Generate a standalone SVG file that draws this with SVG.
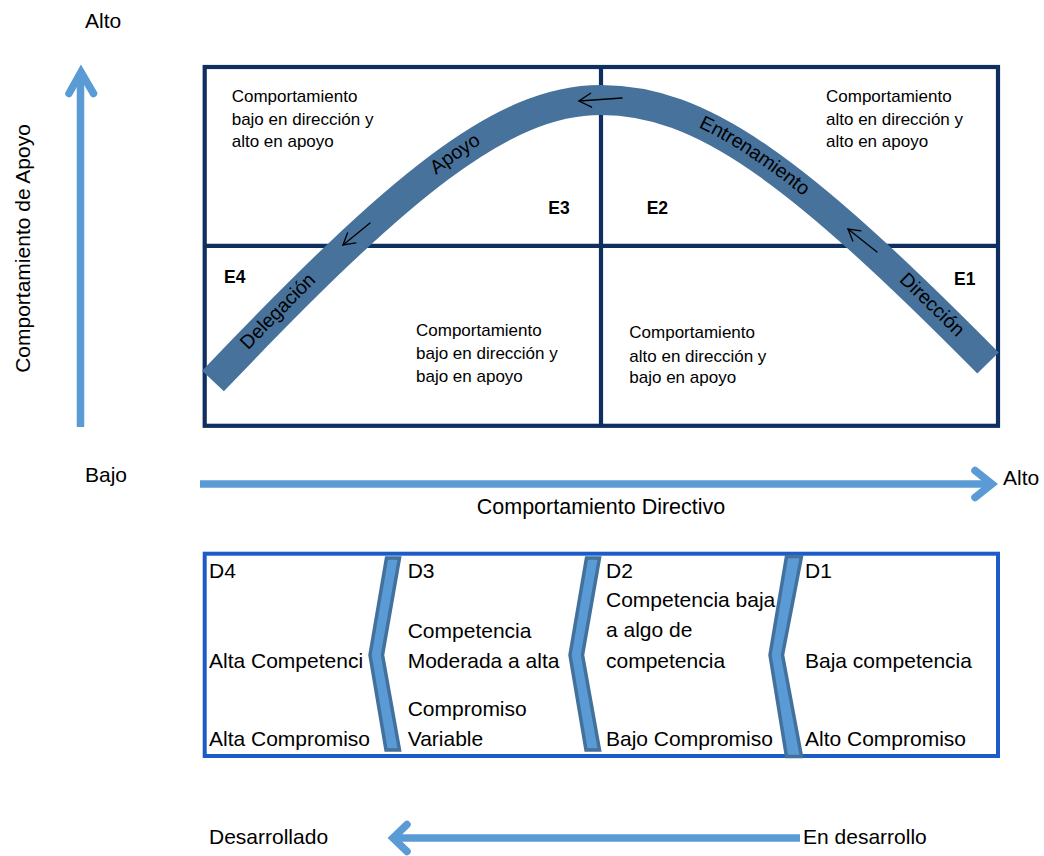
<svg xmlns="http://www.w3.org/2000/svg" width="1044" height="856" viewBox="0 0 1044 856">
  <defs>
    <style>
      .t { font-family: "Liberation Sans", Arial, sans-serif; fill: #000; }
      .quad { font-size: 17px; }
      .lbl { font-size: 17.5px; font-weight: bold; }
      .cell { font-size: 21px; }
      .axis { font-size: 21px; }
      .bandtxt { font-size: 19.5px; }
      .grid { fill: none; stroke: #0F2F61; stroke-width: 4.2; }
      .axisline { fill: none; stroke: #5B9BD5; stroke-width: 7.5; stroke-linecap: butt; }
      .axishead { fill: none; stroke: #5B9BD5; stroke-width: 7.5; stroke-linecap: round; stroke-linejoin: miter; }
      .thin { fill: none; stroke: #000; stroke-width: 1.3; stroke-linecap: round; }
      .chev { fill: #5B9BD5; stroke: #41719C; stroke-width: 3.5; stroke-linejoin: miter; }
    </style>
    <path id="arcPath" d="M213,381 C398,187 501,100 601,100 C701,100 795,168 988,363"/>
  </defs>

  <rect width="1044" height="856" fill="#fff"/>

  <!-- quadrant grid -->
  <g id="grid">
    <rect class="grid" x="204.7" y="67" width="793.3" height="358.8"/>
    <line class="grid" x1="601" y1="67" x2="601" y2="425.8"/>
    <line class="grid" x1="204.7" y1="245.8" x2="998" y2="245.8"/>
  </g>

  <!-- quadrant descriptions -->
  <g id="q-e3">
    <text class="t quad" x="231.7" y="101.7">Comportamiento</text>
    <text class="t quad" x="231.7" y="125">bajo en dirección y</text>
    <text class="t quad" x="231.7" y="147.3">alto en apoyo</text>
    <text class="t lbl" x="548.3" y="214">E3</text>
  </g>
  <g id="q-e2">
    <text class="t quad" x="826" y="101.7">Comportamiento</text>
    <text class="t quad" x="826" y="125">alto en dirección y</text>
    <text class="t quad" x="826" y="147.3">alto en apoyo</text>
    <text class="t lbl" x="646.7" y="214">E2</text>
  </g>
  <g id="q-e4">
    <text class="t quad" x="416" y="335.7">Comportamiento</text>
    <text class="t quad" x="416" y="359.3">bajo en dirección y</text>
    <text class="t quad" x="416" y="381.7">bajo en apoyo</text>
    <text class="t lbl" x="224" y="283">E4</text>
  </g>
  <g id="q-e1">
    <text class="t quad" x="629.3" y="338.3">Comportamiento</text>
    <text class="t quad" x="629.3" y="361.7">alto en dirección y</text>
    <text class="t quad" x="629.3" y="383.3">bajo en apoyo</text>
    <text class="t lbl" x="954" y="285">E1</text>
  </g>

  <!-- style curve band -->
  <g id="style-curve">
    <use href="#arcPath" fill="none" stroke="#47729B" stroke-width="30" stroke-linecap="butt"/>
    <text class="t bandtxt" text-anchor="middle" dy="4"><textPath href="#arcPath" startOffset="95">Delegación</textPath></text>
    <text class="t bandtxt" text-anchor="middle" dy="4"><textPath href="#arcPath" startOffset="332">Apoyo</textPath></text>
    <text class="t bandtxt" text-anchor="middle" dy="4"><textPath href="#arcPath" startOffset="656">Entrenamiento</textPath></text>
    <text class="t bandtxt" text-anchor="middle" dy="4"><textPath href="#arcPath" startOffset="888">Dirección</textPath></text>
  </g>

  <!-- connectors: direction marks on the band and the axes -->
  <g id="connectors">
    <line class="thin" x1="622" y1="98" x2="579" y2="101"/>
    <polyline class="thin" points="590.6,93.2 579,101 591.6,107.2"/>
    <line class="thin" x1="370" y1="223" x2="343" y2="245"/>
    <polyline class="thin" points="347.6,232.8 343,245 355.8,242.9"/>
    <line class="thin" x1="877" y1="252" x2="848" y2="229"/>
    <polyline class="thin" points="852.8,241.1 848,229 860.9,230.9"/>

    <!-- support axis -->
    <line class="axisline" x1="80.5" y1="427" x2="80.5" y2="72"/>
    <polyline class="axishead" points="69,93.5 81,72 93.5,93.5"/>
    <!-- directive axis -->
    <line class="axisline" x1="200" y1="484" x2="991" y2="484"/>
    <polyline class="axishead" points="975,470.5 992,484 975,497.5"/>
    <!-- development axis -->
    <line class="axisline" x1="800" y1="838" x2="395" y2="838"/>
    <polyline class="axishead" points="407,824.5 393,838 407,851.5"/>
  </g>

  <!-- axis labels -->
  <g id="axis-labels">
    <text class="t axis" x="85" y="28">Alto</text>
    <text class="t axis" x="85" y="482">Bajo</text>
    <text class="t axis" text-anchor="middle" transform="translate(30,248.5) rotate(-90)">Comportamiento de Apoyo</text>
    <text class="t axis" x="1003" y="485">Alto</text>
    <text class="t axis" text-anchor="middle" x="601" y="514" style="font-size:21.5px">Comportamiento Directivo</text>
    <text class="t axis" x="209" y="844">Desarrollado</text>
    <text class="t axis" x="803" y="844">En desarrollo</text>
  </g>

  <!-- development levels -->
  <g id="dev-box">
    <rect x="204.7" y="553.7" width="793.3" height="202.3" fill="#fff" stroke="#1B5CC8" stroke-width="4"/>
  </g>
  <g id="d4">
    <text class="t cell" x="209" y="578.3">D4</text>
    <text class="t cell" x="209" y="668.3">Alta Competenci</text>
    <text class="t cell" x="209" y="745.7">Alta Compromiso</text>
  </g>
  <g id="d3">
    <text class="t cell" x="407.7" y="578.3">D3</text>
    <text class="t cell" x="407.7" y="637.7">Competencia</text>
    <text class="t cell" x="407.7" y="668.3">Moderada a alta</text>
    <text class="t cell" x="407.7" y="715.7">Compromiso</text>
    <text class="t cell" x="407.7" y="745.7">Variable</text>
  </g>
  <g id="d2">
    <text class="t cell" x="606" y="578.3">D2</text>
    <text class="t cell" x="606" y="606.7">Competencia baja</text>
    <text class="t cell" x="606" y="636.7">a algo de</text>
    <text class="t cell" x="606" y="668.3">competencia</text>
    <text class="t cell" x="606" y="745.7">Bajo Compromiso</text>
  </g>
  <g id="d1">
    <text class="t cell" x="805" y="578.3">D1</text>
    <text class="t cell" x="805" y="668.3">Baja competencia</text>
    <text class="t cell" x="805" y="745.7">Alto Compromiso</text>
  </g>

  <!-- chevron separators -->
  <g id="chevrons">
    <polygon class="chev" points="386.5,558 399.5,558 382.5,655 399.5,750 386,750 370,655"/>
    <polygon class="chev" points="586.5,558 599.5,558 582.5,655 599.5,750 586,750 570,655"/>
    <polygon class="chev" points="786.5,556.5 801.5,556.5 782.5,655 801.5,756.5 786.5,756.5 770,655"/>
  </g>
</svg>
